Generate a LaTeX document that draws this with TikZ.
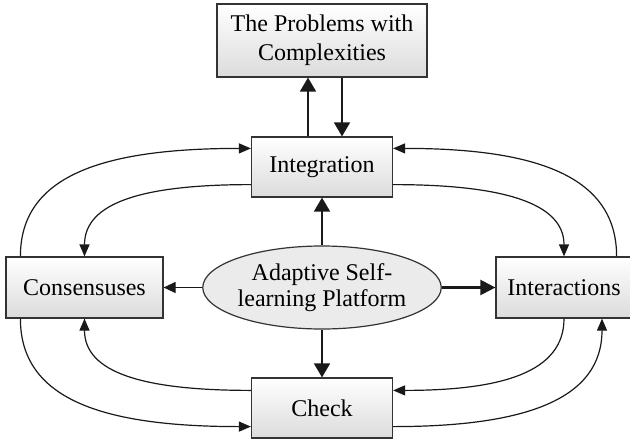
\documentclass[tikz,border=0pt]{standalone}
\usepackage{fontspec}
\setmainfont{Liberation Serif}
\usetikzlibrary{arrows.meta,shapes.geometric}

\begin{document}
\begin{tikzpicture}[x=5pt,y=5pt,
  box/.style={draw=black!80,line width=0.6pt,top color=white,bottom color=black!14,
    align=center,inner sep=0pt,font=\fontsize{12}{14.5}\selectfont},
  link/.style={line width=0.6pt,draw=black!90,-{Triangle[length=6pt,width=5pt]}},
  bigarr/.style={line width=0.85pt,draw=black!90,-{Triangle[length=7pt,width=8pt]}}]
\useasboundingbox (0,0) rectangle (63,44);
% Boxes
\node[box,minimum width=105pt,minimum height=36.5pt] (prob) at (32.2,39.95) {The Problems with\\Complexities};
\node[box,minimum width=70.5pt,minimum height=30pt] (integ) at (32.2,27.3) {Integration};
\node[box,minimum width=78.5pt,minimum height=30.5pt] (cons) at (8.45,15.25) {Consensuses};
\node[box,minimum width=68pt,minimum height=30.5pt] (inter) at (56.4,15.25) {Interactions};
\node[box,minimum width=70.5pt,minimum height=30pt] (check) at (32.2,3.2) {Check};
\node[ellipse,draw=black!80,line width=0.6pt,fill=black!8,minimum width=105pt,minimum height=41.5pt,
  inner sep=0pt,align=center,font=\fontsize{12}{13}\selectfont] (plat) at (32.2,15.25) {Adaptive Self-\\learning Platform};
% Straight arrows
\draw[bigarr] ([xshift=-7pt]integ.north) -- ([xshift=-7pt]prob.south);
\draw[bigarr] ([xshift=10pt]prob.south) -- ([xshift=10pt]integ.north);
\draw[bigarr] (plat.north) -- (integ.south);
\draw[bigarr] (plat.south) -- (check.north);
\draw[link,-{Triangle[length=6pt,width=5.5pt]}] (plat.west) -- (cons.east);
\draw[bigarr,line width=1.1pt,-{Triangle[length=7.5pt,width=7.5pt]}] (plat.east) -- (inter.west);
% Curved links
\draw[link] ([xshift=7.5pt]cons.north west) .. controls +(0,40pt) and +(-75pt,0) .. ([yshift=-6pt]integ.north west);
\draw[link] ([yshift=6.5pt]integ.south west) .. controls +(-54pt,0) and +(0,27pt) .. (cons.north);
\draw[link] ([xshift=-8pt]inter.north east) .. controls +(0,40pt) and +(72pt,0) .. ([yshift=-6pt]integ.north east);
\draw[link] ([yshift=6.5pt]integ.south east) .. controls +(54pt,0) and +(0,27pt) .. (inter.north);
\draw[link] ([xshift=7.5pt]cons.south west) .. controls +(0,-40pt) and +(-75pt,0) .. ([yshift=6pt]check.south west);
\draw[link] ([yshift=-6.5pt]check.north west) .. controls +(-54pt,0) and +(0,-27pt) .. (cons.south);
\draw[link] (inter.south) .. controls +(0,-27pt) and +(54pt,0) .. ([yshift=-6.5pt]check.north east);
\draw[link] ([yshift=6pt]check.south east) .. controls +(67pt,0) and +(0,-40pt) .. ([xshift=19pt]inter.south);
\end{tikzpicture}
\end{document}
